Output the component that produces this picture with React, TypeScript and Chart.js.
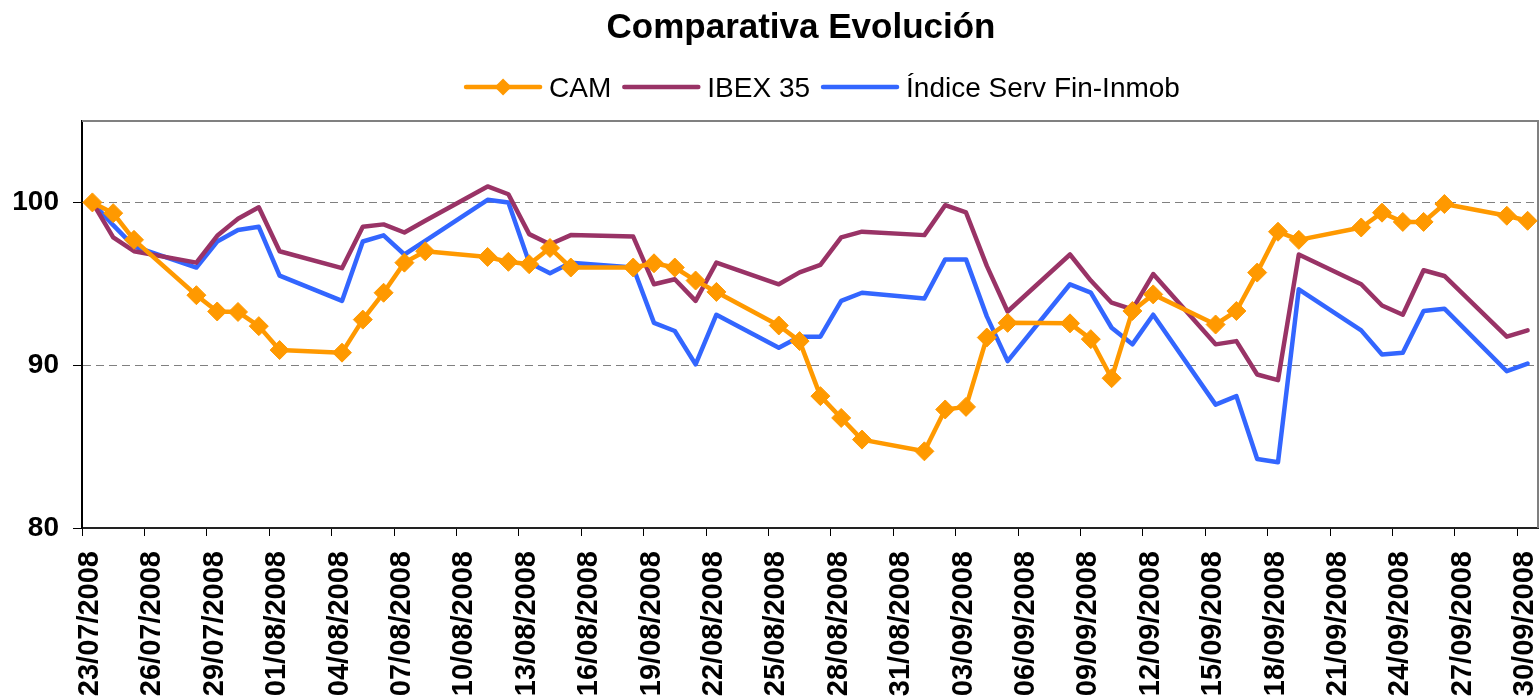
import React, { useEffect, useRef } from 'react';
import { Chart, registerables } from 'chart.js';

Chart.register(...registerables);

const FONT = '"Liberation Sans", Arial, Helvetica, sans-serif';

const TITLE = 'Comparativa Evolución';

const dates = [
  '23/07/2008', '24/07/2008', '25/07/2008', '28/07/2008', '29/07/2008', '30/07/2008', '31/07/2008',
  '01/08/2008', '04/08/2008', '05/08/2008', '06/08/2008', '07/08/2008', '08/08/2008', '11/08/2008',
  '12/08/2008', '13/08/2008', '14/08/2008', '15/08/2008', '18/08/2008', '19/08/2008', '20/08/2008',
  '21/08/2008', '22/08/2008', '25/08/2008', '26/08/2008', '27/08/2008', '28/08/2008', '29/08/2008',
  '01/09/2008', '02/09/2008', '03/09/2008', '04/09/2008', '05/09/2008', '08/09/2008', '09/09/2008',
  '10/09/2008', '11/09/2008', '12/09/2008', '15/09/2008', '16/09/2008', '17/09/2008', '18/09/2008',
  '19/09/2008', '22/09/2008', '23/09/2008', '24/09/2008', '25/09/2008', '26/09/2008', '29/09/2008',
  '30/09/2008',
];

const camValues = [
  100, 99.34, 97.7, 94.3, 93.3, 93.27, 92.4, 90.93, 90.77, 92.8,
  94.45, 96.3, 97.0, 96.65, 96.35, 96.2, 97.2, 96.0, 96.0, 96.26,
  96.0, 95.2, 94.5, 92.44, 91.48, 88.1, 86.76, 85.43, 84.71, 87.28,
  87.44, 91.7, 92.6, 92.57, 91.6, 89.2, 93.33, 94.35, 92.5, 93.33,
  95.69, 98.2, 97.7, 98.46, 99.37, 98.8, 98.8, 99.9, 99.18, 98.87,
];

const ibexValues = [
  100, 97.85, 97.0, 96.3, 97.95, 99.0, 99.7, 97.0, 95.96, 98.5,
  98.65, 98.15, 98.87, 100.98, 100.5, 98.05, 97.43, 97.99, 97.9, 94.97,
  95.28, 93.95, 96.3, 94.97, 95.7, 96.16, 97.85, 98.2, 97.99, 99.83,
  99.38, 96.1, 93.3, 96.8, 95.2, 93.84, 93.43, 95.6, 91.28, 91.48,
  89.43, 89.08, 96.8, 94.97, 93.67, 93.1, 95.83, 95.48, 91.75, 92.14,
];

const indiceValues = [
  100, 98.6, 97.3, 96.0, 97.6, 98.3, 98.5, 95.5, 93.95, 97.6,
  97.98, 96.8, 97.64, 100.16, 100.0, 96.3, 95.65, 96.3, 96.0, 92.6,
  92.1, 90.05, 93.1, 91.07, 91.75, 91.75, 93.95, 94.45, 94.1, 96.5,
  96.5, 93.0, 90.25, 94.97, 94.46, 92.3, 91.28, 93.1, 87.58, 88.1,
  84.24, 84.04, 94.66, 92.14, 90.66, 90.76, 93.33, 93.47, 89.63, 90.1,
];

const seriesLabels = ['CAM', 'IBEX 35', 'Índice Serv Fin-Inmob'];
const seriesColors = ['#FF9900', '#993366', '#3366FF'];
const yTickValues = [80, 90, 100];
const X_TICK_STEP_DAYS = 3;

const DAY_MS = 86400000;
const parseDate = (s: string) => {
  const [d, m, y] = s.split('/').map(Number);
  return Date.UTC(y, m - 1, d);
};
const startMs = parseDate(dates[0]);
const dayIndex = (s: string) => Math.round((parseDate(s) - startMs) / DAY_MS);
const lastDay = dayIndex(dates[dates.length - 1]);
const pad2 = (n: number) => (n < 10 ? '0' + n : '' + n);
const formatDay = (v: number) => {
  const d = new Date(startMs + Math.round(v) * DAY_MS);
  return pad2(d.getUTCDate()) + '/' + pad2(d.getUTCMonth() + 1) + '/' + d.getUTCFullYear();
};
const xTickDays: number[] = [];
for (let v = 0; v <= lastDay; v += X_TICK_STEP_DAYS) xTickDays.push(v);

const toPoints = (vals: number[]) => dates.map((d, i) => ({ x: dayIndex(d) + 0.5, y: vals[i] }));

const framePlugin = {
  id: 'frame',
  beforeDatasetsDraw(chart: any) {
    const { ctx, chartArea } = chart;
    const { left, right, top, bottom } = chartArea;
    ctx.save();
    ctx.strokeStyle = '#808080';
    ctx.lineWidth = 2;
    ctx.beginPath();
    ctx.moveTo(left, top);
    ctx.lineTo(right, top);
    ctx.lineTo(right, bottom);
    ctx.stroke();
    ctx.restore();
  },
};

const headerPlugin = {
  id: 'header',
  afterDraw(chart: any, _args: any, opts: any) {
    const { ctx } = chart;
    ctx.save();
    ctx.fillStyle = '#000';
    ctx.font = `bold ${opts.titleSize}px ${FONT}`;
    ctx.textAlign = 'center';
    ctx.textBaseline = 'alphabetic';
    ctx.fillText(opts.title, opts.titleX, opts.titleBaseline);

    ctx.font = `${opts.legendSize}px ${FONT}`;
    const items = chart.data.datasets.map((ds: any) => ({
      label: ds.label,
      color: ds.borderColor,
      marker: ds.pointRadius > 0,
      w: ctx.measureText(ds.label).width,
    }));
    const total =
      items.reduce((s: number, it: any) => s + opts.lineLen + opts.textGap + it.w, 0) +
      opts.itemGap * (items.length - 1);
    let x = opts.legendCenterX - total / 2;
    ctx.textAlign = 'left';
    items.forEach((it: any) => {
      ctx.strokeStyle = it.color;
      ctx.lineWidth = 4.5;
      ctx.lineCap = 'round';
      ctx.beginPath();
      ctx.moveTo(x + 2, opts.legendLineY);
      ctx.lineTo(x + opts.lineLen - 2, opts.legendLineY);
      ctx.stroke();
      if (it.marker) {
        const cx = x + opts.lineLen / 2;
        const cy = opts.legendLineY;
        const r = 8.5;
        ctx.fillStyle = it.color;
        ctx.beginPath();
        ctx.moveTo(cx, cy - r);
        ctx.lineTo(cx + r, cy);
        ctx.lineTo(cx, cy + r);
        ctx.lineTo(cx - r, cy);
        ctx.closePath();
        ctx.fill();
      }
      ctx.fillStyle = '#000';
      ctx.fillText(it.label, x + opts.lineLen + opts.textGap, opts.legendBaseline);
      x += opts.lineLen + opts.textGap + it.w + opts.itemGap;
    });
    ctx.restore();
  },
};

export default function App() {
  const ref = useRef<HTMLCanvasElement>(null);

  useEffect(() => {
    const canvas = ref.current;
    if (!canvas) return;
    const valueSets = [camValues, ibexValues, indiceValues];
    const datasets = valueSets.map((vals, i) => ({
      label: seriesLabels[i],
      data: toPoints(vals),
      borderColor: seriesColors[i],
      backgroundColor: seriesColors[i],
      borderWidth: 4.5,
      tension: 0,
      borderJoinStyle: 'round' as const,
      borderCapStyle: 'round' as const,
      pointStyle: 'rectRot' as const,
      pointRadius: i === 0 ? 9.5 : 0,
      pointHoverRadius: i === 0 ? 9.5 : 0,
      pointBackgroundColor: seriesColors[i],
      pointBorderColor: seriesColors[i],
      pointBorderWidth: 1,
      fill: false,
    }));

    const chart = new Chart(canvas, {
      type: 'line',
      data: { datasets },
      plugins: [framePlugin, headerPlugin],
      options: {
        responsive: false,
        animation: false,
        events: [],
        layout: { autoPadding: false, padding: { top: 121, right: 1, left: 0, bottom: 0 } },
        scales: {
          x: {
            type: 'linear',
            min: 0,
            max: lastDay + 1,
            afterBuildTicks: (s: any) => {
              s.ticks = xTickDays.map((v) => ({ value: v }));
            },
            afterFit: (s: any) => {
              s.height = 170;
              s.paddingLeft = 0;
              s.paddingRight = 0;
            },
            grid: {
              display: true,
              drawOnChartArea: false,
              drawTicks: true,
              tickLength: 8,
              tickColor: '#000',
              tickWidth: 1,
            },
            border: { display: true, color: '#222', width: 2 },
            ticks: {
              autoSkip: false,
              maxRotation: 90,
              minRotation: 90,
              padding: 15,
              labelOffset: 8,
              color: '#000',
              font: { family: FONT, size: 29, weight: 'bold' },
              callback: (v: any) => formatDay(Number(v)),
            },
          },
          y: {
            min: 80,
            max: 105,
            afterBuildTicks: (s: any) => {
              s.ticks = yTickValues.map((v) => ({ value: v }));
            },
            afterFit: (s: any) => {
              s.width = 82;
              s.paddingTop = 0;
              s.paddingBottom = 0;
            },
            grid: {
              color: (c: any) => (c.tick && c.tick.value === 80 ? 'rgba(0,0,0,0)' : '#808080'),
              lineWidth: 1,
              drawTicks: true,
              tickLength: 9,
              tickColor: '#000',
              tickWidth: 1,
            },
            border: { display: true, color: '#000', width: 2, dash: [8, 5] },
            ticks: {
              color: '#000',
              padding: 14,
              font: { family: FONT, size: 28, weight: 'bold' },
            },
          },
        },
        plugins: {
          legend: { display: false },
          title: { display: false },
          tooltip: { enabled: false },
          header: {
            title: TITLE,
            titleSize: 35,
            titleX: 801,
            titleBaseline: 38,
            legendSize: 28,
            legendCenterX: 822,
            legendLineY: 87,
            legendBaseline: 97,
            lineLen: 78,
            textGap: 7,
            itemGap: 11,
          },
        } as any,
      },
    } as any);

    return () => chart.destroy();
  }, []);

  return (
    <div style={{ position: 'fixed', left: 0, top: 0, width: 1539, height: 698, background: '#fff' }}>
      <canvas ref={ref} width={1539} height={698} style={{ display: 'block', width: 1539, height: 698 }} />
    </div>
  );
}
